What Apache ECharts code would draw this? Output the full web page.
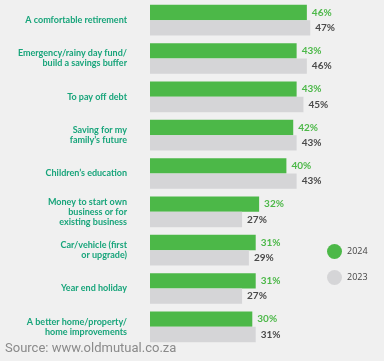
<!DOCTYPE html>
<html><head><meta charset="utf-8">
<script src="https://cdn.jsdelivr.net/npm/echarts@6/dist/echarts.min.js"></script>
<style>html,body{margin:0;padding:0;background:#f0f0f0;}#c{width:384px;height:361px;}</style>
</head><body><div id="c"></div>
<script>
const categories = [
  "A comfortable retirement",
  "Emergency/rainy day fund/\nbuild a savings buffer",
  "To pay off debt",
  "Saving for my\nfamily\u2019s future",
  "Children\u2019s education",
  "Money to start own\nbusiness or for\nexisting business",
  "Car/vehicle (first\nor upgrade)",
  "Year end holiday",
  "A better home/property/\nhome improvements"
];
const values2024 = [46, 43, 43, 42, 40, 32, 31, 31, 30];
const values2023 = [47, 46, 45, 43, 43, 27, 29, 27, 31];
const seriesNames = ["2024", "2023"];

const chart = echarts.init(document.getElementById('c'), null, {renderer: 'canvas'});
chart.setOption({
  backgroundColor: '#f0f0f0',
  animation: false,
  grid: {left: 150, top: 1, width: 170.5, height: 345},
  xAxis: {type: 'value', min: 0, max: 50, show: false},
  yAxis: {
    type: 'category', data: categories, inverse: true,
    axisLine: {show: false}, axisTick: {show: false},
    axisLabel: {margin: 23, color: '#17a47a', fontFamily: 'Lato', fontWeight: 'bold', fontSize: 9, lineHeight: 10, align: 'right'}
  },
  legend: {
    orient: 'vertical', left: 322, top: 239, itemGap: 11, itemWidth: 15, itemHeight: 15,
    icon: 'circle', data: seriesNames,
    textStyle: {color: '#444', fontFamily: 'Open Sans', fontSize: 9}
  },
  series: [
    {name: seriesNames[0], type: 'bar', data: values2024, barWidth: 15.3, barGap: '0%',
     itemStyle: {color: '#4cb848'},
     label: {show: true, position: 'right', distance: 5, formatter: '{c}%', color: '#4cb848', fontFamily: 'Lato', fontWeight: 'bold', fontSize: 10}},
    {name: seriesNames[1], type: 'bar', data: values2023, barWidth: 15.3,
     itemStyle: {color: '#d5d5d7'},
     label: {show: true, position: 'right', distance: 5, formatter: '{c}%', color: '#4a4a4a', fontFamily: 'Lato', fontWeight: 'bold', fontSize: 10}}
  ],
  graphic: [{type: 'text', left: 5, top: 342, style: {text: 'Source: www.oldmutual.co.za', fill: '#8a8a8a', font: '13px Roboto'}}]
});
</script></body></html>
